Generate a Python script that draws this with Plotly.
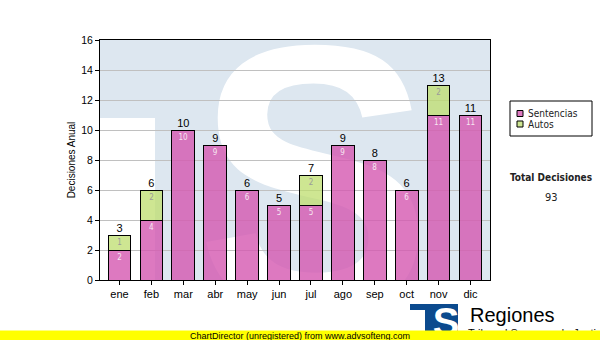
import base64
import plotly.graph_objects as go

# Monthly decisions, stacked by type
months = ["ene", "feb", "mar", "abr", "may", "jun", "jul", "ago", "sep", "oct", "nov", "dic"]
sentencias = [2, 4, 10, 9, 6, 5, 5, 9, 8, 6, 11, 11]
autos = [1, 2, 0, 0, 0, 0, 2, 0, 0, 0, 2, 0]
y_ticks = [0, 2, 4, 6, 8, 10, 12, 14, 16]

totals = [s + a for s, a in zip(sentencias, autos)]
total_decisiones = sum(totals)

PINK = "rgba(212,88,176,0.8)"
GREEN = "rgba(190,222,110,0.75)"
COND = "DejaVu Sans Condensed"
ARIAL = "Liberation Sans, Arial, sans-serif"


def svg_uri(svg):
    return "data:image/svg+xml;base64," + base64.b64encode(svg.encode("utf-8")).decode("ascii")


# Faint "S" emblem behind the bars
watermark = svg_uri(
    '<svg xmlns="http://www.w3.org/2000/svg" width="390" height="240" '
    'viewBox="0 0 390 240" preserveAspectRatio="none">'
    '<rect width="390" height="240" fill="#dde7f0"/>'
    '<rect x="0" y="78" width="55" height="162" fill="#ffffff"/>'
    '<g transform="translate(214,270) scale(0.93,1)">'
    '<text x="0" y="0" text-anchor="middle" font-family="Liberation Sans" '
    'font-weight="bold" font-size="380" fill="#ffffff">S</text></g>'
    '</svg>'
)

# Small emblem next to the "Regiones" caption
emblem = svg_uri(
    '<svg xmlns="http://www.w3.org/2000/svg" width="48" height="34" '
    'viewBox="0 0 48 34" preserveAspectRatio="none">'
    '<rect width="48" height="34" fill="#0b4a8e"/>'
    '<rect x="0" y="6" width="15" height="28" fill="#ffffff"/>'
    '<text x="36" y="32" text-anchor="middle" font-family="Liberation Sans" '
    'font-weight="bold" font-size="40" fill="#ffffff">S</text>'
    '</svg>'
)

fig = go.Figure()

fig.add_trace(go.Bar(
    x=months, y=sentencias, name="Sentencias",
    marker=dict(color=PINK, line=dict(color="black", width=1)),
    text=[str(v) for v in sentencias],
    textposition="inside", insidetextanchor="end",
    textfont=dict(family=COND, size=8, color="#f6e6f1"),
    constraintext="none", cliponaxis=False,
))
fig.add_trace(go.Bar(
    x=months, y=[a if a else None for a in autos], name="Autos",
    marker=dict(color=GREEN, line=dict(color="black", width=1)),
    text=[str(a) if a else "" for a in autos],
    textposition="inside", insidetextanchor="end",
    textfont=dict(family=COND, size=8, color="#9a9a9a"),
    constraintext="none", cliponaxis=False,
))
fig.add_trace(go.Scatter(
    x=months, y=totals, mode="text",
    text=[str(t) for t in totals], textposition="top center",
    textfont=dict(family=ARIAL, size=11, color="black"),
    cliponaxis=False, showlegend=False,
))

# Hand-drawn legend box
legend_x0, legend_x1, legend_y0, legend_y1 = 510, 592, 101, 136


def px_x(px):
    return (px - 100) / 390


def px_y(py):
    return (280 - py) / 240


shapes = [
    dict(type="rect", xref="paper", yref="paper",
         x0=px_x(legend_x0), x1=px_x(legend_x1), y0=px_y(legend_y1), y1=px_y(legend_y0),
         line=dict(color="black", width=1), fillcolor="white"),
]
annotations = []
for i, (label, col) in enumerate([("Sentencias", PINK), ("Autos", GREEN)]):
    cy = 113.5 + i * 10.5
    shapes.append(dict(type="rect", xref="paper", yref="paper",
                       x0=px_x(517), x1=px_x(523), y0=px_y(cy + 3), y1=px_y(cy - 3),
                       line=dict(color="black", width=1), fillcolor=col))
    annotations.append(dict(xref="paper", yref="paper", x=px_x(526), y=px_y(cy),
                            xanchor="left", yanchor="middle", showarrow=False,
                            text=label, font=dict(family=COND, size=10, color="#222")))

annotations += [
    dict(xref="paper", yref="paper", x=px_x(551), y=px_y(177), xanchor="center",
         yanchor="middle", showarrow=False, text="<b>Total Decisiones</b>",
         font=dict(family=COND, size=10, color="#222")),
    dict(xref="paper", yref="paper", x=px_x(551), y=px_y(197), xanchor="center",
         yanchor="middle", showarrow=False, text=str(total_decisiones),
         font=dict(family=COND, size=11, color="#222")),
    dict(xref="paper", yref="paper", x=px_x(468), y=px_y(315), xanchor="left",
         yanchor="middle", showarrow=False, text="Regiones",
         font=dict(family=ARIAL, size=20, color="black")),
    dict(xref="paper", yref="paper", x=px_x(466), y=px_y(333), xanchor="left",
         yanchor="middle", showarrow=False, text="Tribunal Supremo de Justicia",
         font=dict(family=ARIAL, size=11, color="black")),
    dict(xref="paper", yref="paper", x=px_x(300), y=px_y(335.5), xanchor="center",
         yanchor="middle", showarrow=False, width=600, height=10, borderpad=0,
         bgcolor="#ffff00", align="center",
         text="ChartDirector (unregistered) from www.advsofteng.com",
         font=dict(family=ARIAL, size=9, color="black")),
]

fig.update_layout(
    width=600, height=340,
    margin=dict(l=100, r=110, t=40, b=60),
    paper_bgcolor="white", plot_bgcolor="rgba(0,0,0,0)",
    barmode="stack", bargap=0.29,
    showlegend=False,
    font=dict(family=ARIAL, size=11, color="black"),
    xaxis=dict(
        showline=True, linecolor="black", linewidth=1, mirror=True,
        ticks="outside", ticklen=4, tickcolor="black",
        tickfont=dict(family=ARIAL, size=11), showgrid=False,
    ),
    yaxis=dict(
        range=[0, 16], tickvals=y_ticks,
        showline=True, linecolor="black", linewidth=1, mirror=True,
        ticks="outside", ticklen=4, tickcolor="black",
        tickfont=dict(family=ARIAL, size=10.5),
        showgrid=True, gridcolor="#c0c0c0", gridwidth=1, zeroline=False,
        title=dict(text="Decisiones Anual", font=dict(family=ARIAL, size=10), standoff=3),
    ),
    images=[
        dict(source=watermark, xref="paper", yref="paper", x=0, y=1,
             sizex=1, sizey=1, xanchor="left", yanchor="top",
             sizing="stretch", layer="below"),
        dict(source=emblem, xref="paper", yref="paper", x=px_x(410), y=px_y(304),
             sizex=48 / 390, sizey=34 / 240, xanchor="left", yanchor="top",
             sizing="stretch", layer="above"),
    ],
    shapes=shapes,
    annotations=annotations,
)

fig.write_html("out.html")
